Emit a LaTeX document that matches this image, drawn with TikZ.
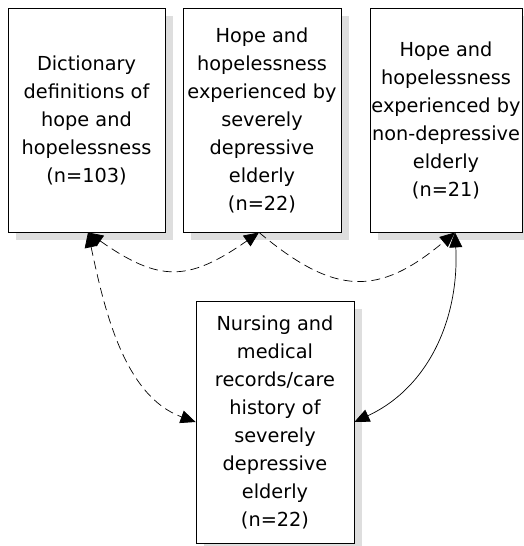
\documentclass[tikz,border=0pt]{standalone}
\usepackage{fontspec}
\setmainfont{DejaVu Sans}
\usetikzlibrary{arrows.meta,shadows}
\begin{document}
\begin{tikzpicture}[x=1pt,y=1pt,
  box/.style={draw=black, line width=0.8pt, fill=white, align=center,
    inner sep=0pt, minimum height=224pt,
    font=\fontsize{19.3}{28}\selectfont,
    drop shadow={shadow xshift=8pt, shadow yshift=-8pt, fill=black!13, opacity=1}},
  link/.style={line width=0.7pt, -{Triangle[length=15pt,width=13pt]}},
  twoway/.style={link, {Triangle[length=15pt,width=13pt]}-{Triangle[length=15pt,width=13pt]}},
  dashedlink/.style={dash pattern=on 9pt off 5pt}
]
\clip (0,0) rectangle (524,-546);
\fill[white] (0,0) rectangle (524,-546);

\node[box, minimum width=157pt] (b1) at (86.5,-120)
  {Dictionary\\definitions of\\hope and\\hopelessness\\(n=103)};
\node[box, minimum width=158pt] (b2) at (262,-120)
  {Hope and\\hopelessness\\experienced by\\severely\\depressive\\elderly\\(n=22)};
\node[box, minimum width=152pt] (b3) at (446,-120)
  {Hope and\\hopelessness\\experienced by\\non-depressive\\elderly\\(n=21)};
\node[box, minimum width=158pt, minimum height=242pt] (b4) at (275,-422)
  {Nursing and\\medical\\records/care\\history of\\severely\\depressive\\elderly\\(n=22)};

% links between the groups
\draw[twoway, dashedlink] ([xshift=1.5pt]b1.south) to[out=-35, in=-145, looseness=1.3] ([xshift=-3pt]b2.south);
\draw[link, dashedlink] ([xshift=-3pt]b2.south) to[out=-40, in=-140, looseness=1.3] ([xshift=9pt]b3.south);
\draw[twoway, dashedlink] ([xshift=1.5pt]b1.south) to[out=-78, in=160, looseness=0.9] (b4.west);
\draw[twoway] ([xshift=9pt]b3.south) to[out=-87, in=25] (b4.east);
\end{tikzpicture}
\end{document}
